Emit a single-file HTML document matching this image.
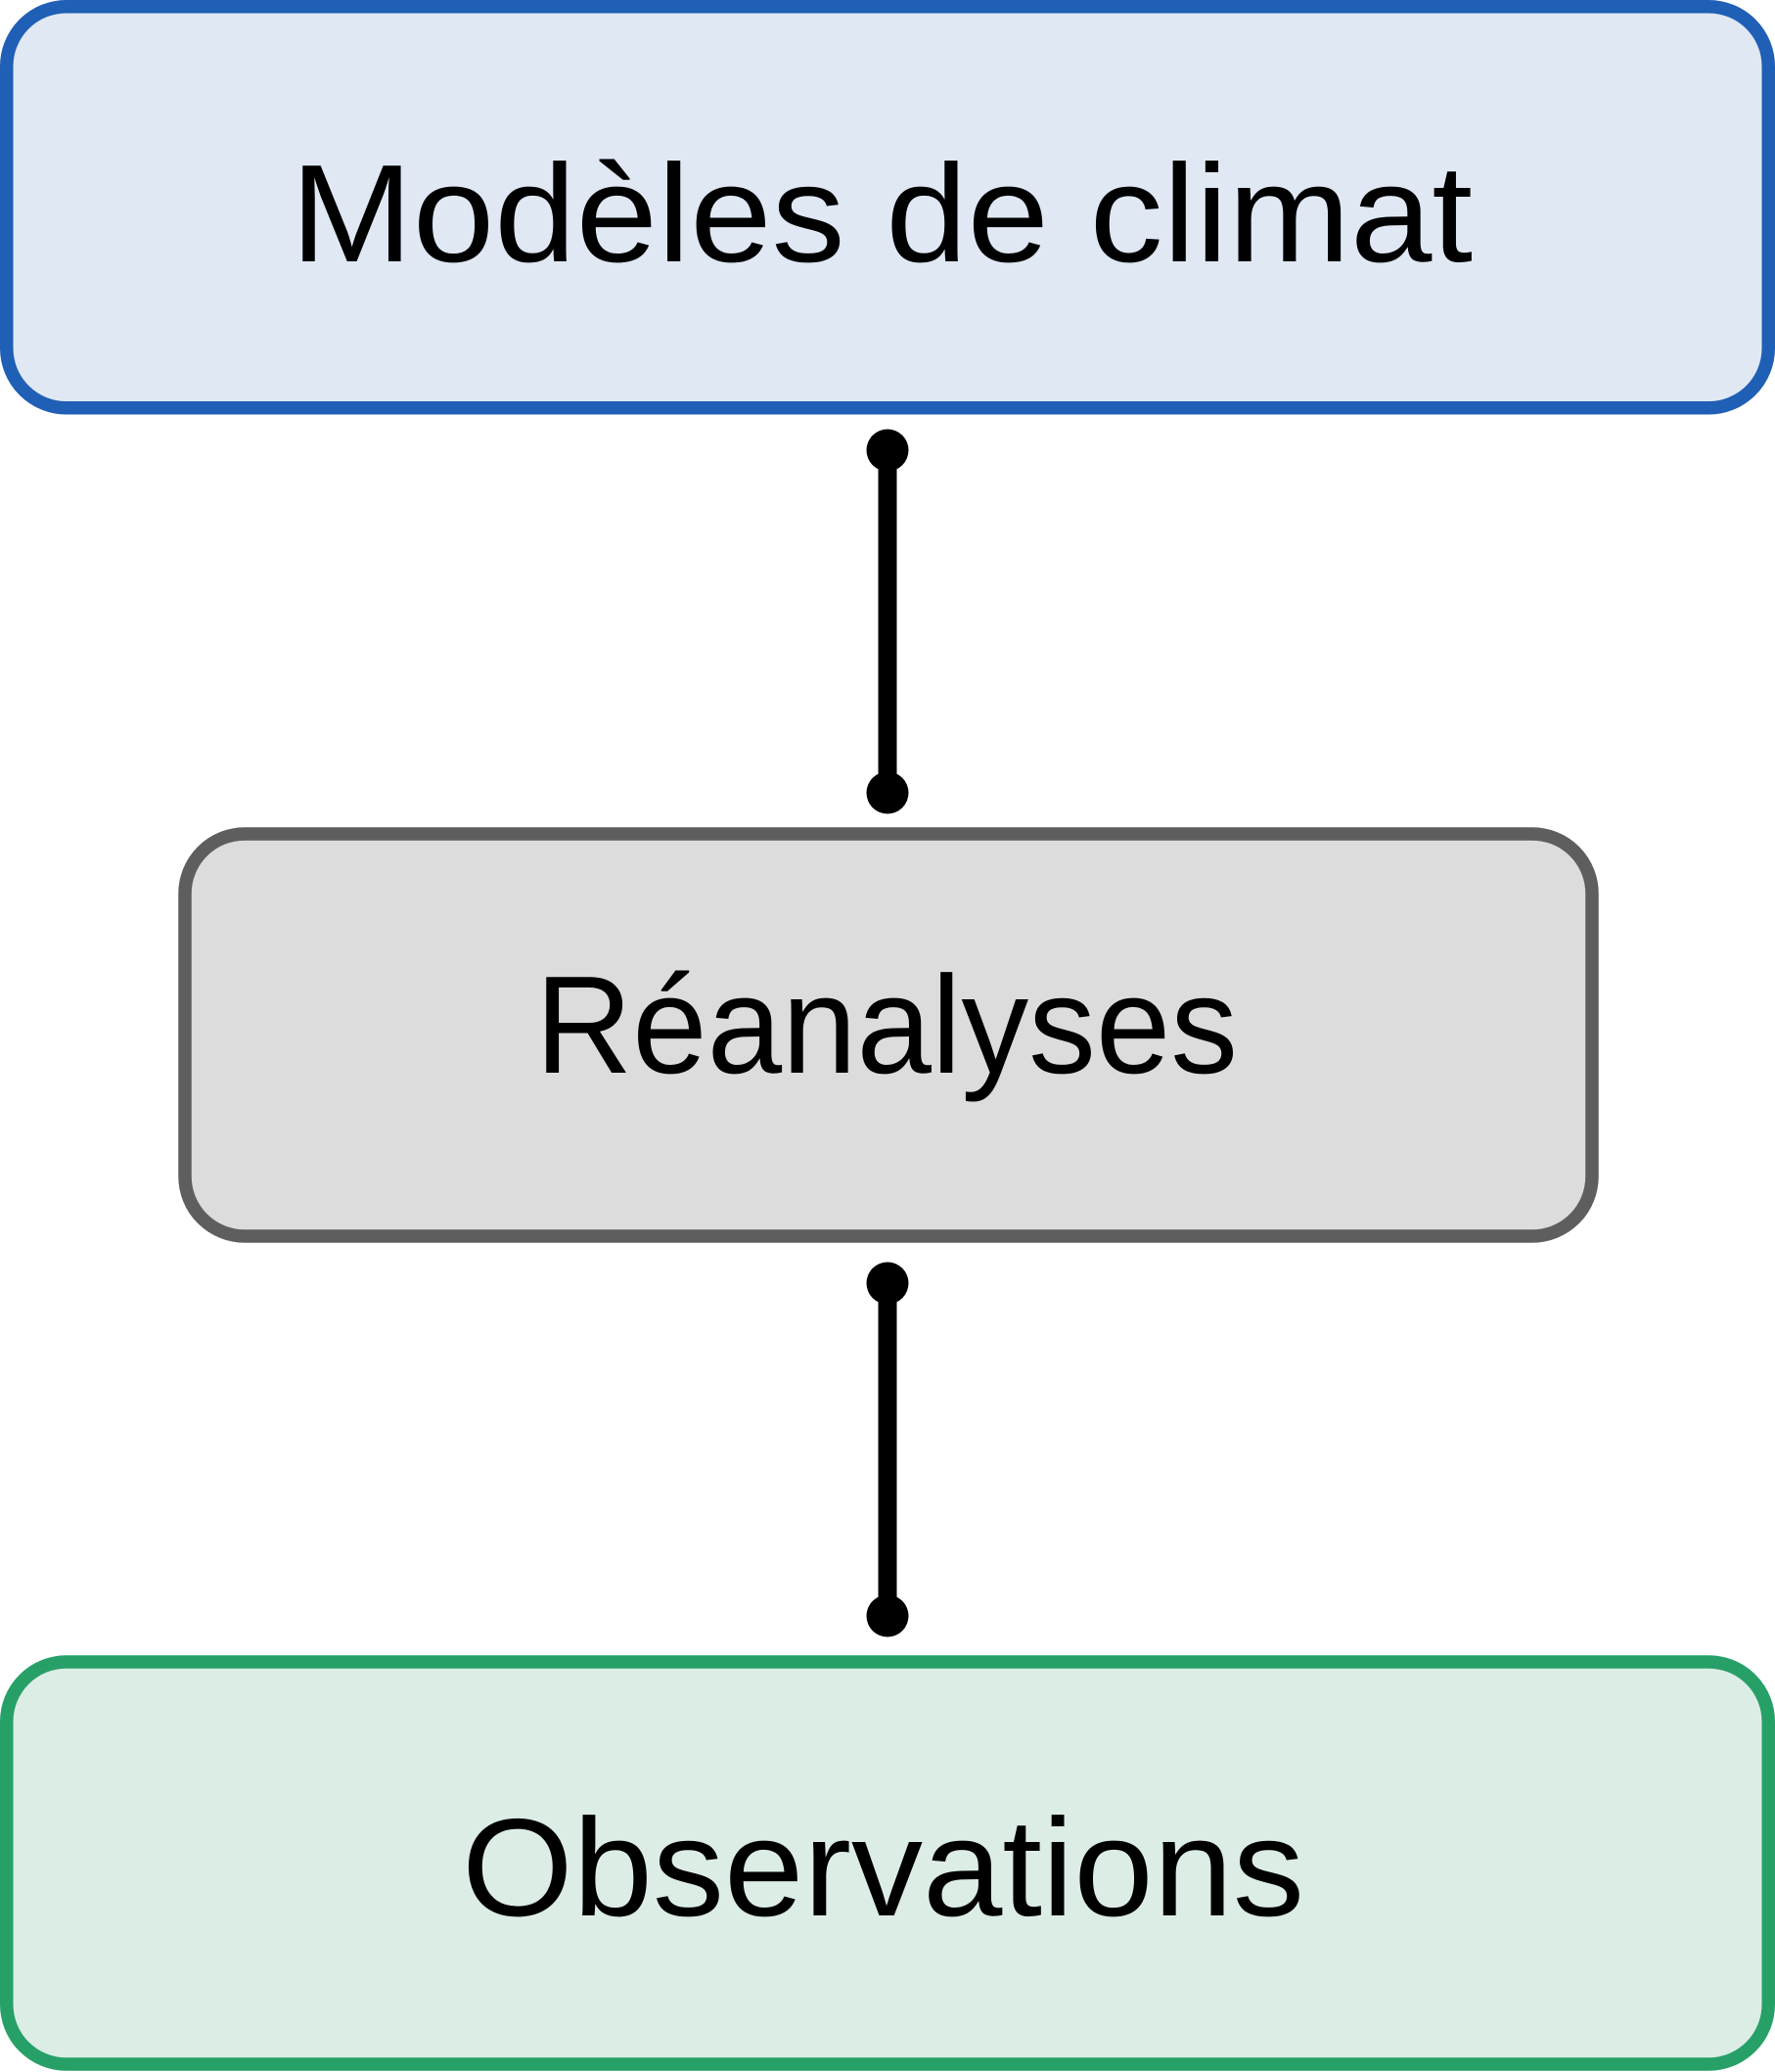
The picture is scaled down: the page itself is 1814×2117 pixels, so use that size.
<!DOCTYPE html>
<html><head><meta charset="utf-8"><style>html,body{margin:0;padding:0;background:#fff}svg{display:block}</style></head>
<body>
<svg width="1814" height="2117" viewBox="0 0 1814 2117" xmlns="http://www.w3.org/2000/svg">
<rect x="6.75" y="6.75" width="1800.5" height="410" rx="61" fill="#dfe8f3" stroke="#1f5fb5" stroke-width="13.5"/>
<rect x="189" y="852" width="1438" height="411" rx="61" fill="#dcdcdc" stroke="#5e5e5e" stroke-width="13.5"/>
<rect x="6.75" y="1698" width="1800.5" height="411" rx="61" fill="#dcede5" stroke="#27a068" stroke-width="13.5"/>
<g fill="#000" stroke="#000">
<line x1="907" y1="460" x2="907" y2="810" stroke-width="19"/>
<circle cx="907" cy="460" r="21.5" stroke="none"/>
<circle cx="907" cy="810" r="21.5" stroke="none"/>
<line x1="907" y1="1311" x2="907" y2="1651" stroke-width="19"/>
<circle cx="907" cy="1311" r="21.5" stroke="none"/>
<circle cx="907" cy="1651" r="21.5" stroke="none"/>
</g>
<g font-family="Liberation Sans, sans-serif" font-size="142" fill="#000">
<text x="297" y="267" textLength="1208" lengthAdjust="spacingAndGlyphs">Modèles de climat</text>
<text x="547" y="1096" textLength="718" lengthAdjust="spacingAndGlyphs">Réanalyses</text>
<text x="472" y="1957" textLength="861" lengthAdjust="spacingAndGlyphs">Observations</text>
</g>
</svg>
</body></html>
